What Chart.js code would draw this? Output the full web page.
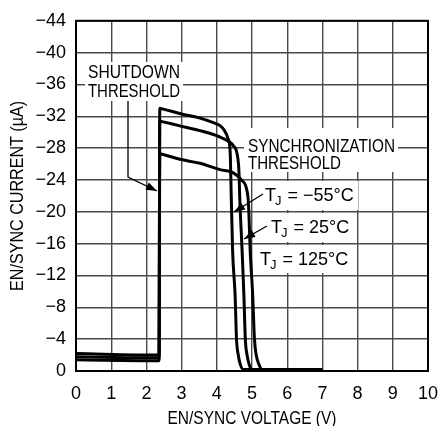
<!DOCTYPE html>
<html>
<head>
<meta charset="utf-8">
<script src="https://cdn.jsdelivr.net/npm/chart.js@4.4.1/dist/chart.umd.min.js"></script>
<style>
  html, body { margin: 0; padding: 0; background: #fff; }
  #wrap { width: 438px; height: 426px; position: relative; }
</style>
</head>
<body>
<div id="wrap"><canvas id="chart"></canvas></div>
<script>
// values (volts, microamps)
const voltsCold = [0, 2.36, 2.38, 2.48, 3.0, 3.5, 3.9, 4.1, 4.22, 4.32, 4.38, 4.41, 4.45, 4.52, 4.56, 4.61, 4.67, 4.75, 7.0];
const currCold  = [-2.2, -2.0, -33.0, -32.9, -32.3, -31.8, -31.2, -30.8, -30.2, -29.2, -27.5, -22, -15, -9.5, -4, -2, -0.8, -0.2, -0.2];

const voltsRoom = [0, 2.36, 2.38, 2.48, 2.95, 3.52, 4.09, 4.35, 4.47, 4.58, 4.63, 4.65, 4.72, 4.77, 4.81, 4.86, 4.92, 4.99, 7.0];
const currRoom  = [-1.8, -1.65, -31.4, -31.3, -30.8, -30.2, -29.4, -28.8, -28.3, -27.2, -25, -22, -15, -9.5, -4, -2, -0.8, -0.2, -0.2];

const voltsHot = [0, 2.36, 2.38, 2.48, 2.95, 3.52, 4.09, 4.47, 4.7, 4.85, 4.9, 4.95, 5.02, 5.07, 5.12, 5.2, 5.28, 7.0];
const currHot  = [-1.4, -1.3, -27.3, -27.2, -26.6, -26.1, -25.3, -24.9, -24.0, -22.8, -21, -15, -9.5, -4, -2, -0.8, -0.2, -0.2];

const xMin = 0, xMax = 10, xStep = 1;
const yMin = -44, yMax = 0, yStep = 4;

const FONT = '"Liberation Sans", Arial, sans-serif';

function toPoints(xs, ys) {
  return xs.map((x, i) => ({ x: x, y: ys[i] }));
}

function curve(xs, ys) {
  return {
    data: toPoints(xs, ys),
    borderColor: '#000',
    borderWidth: 3,
    pointRadius: 0,
    cubicInterpolationMode: 'monotone',
    fill: false,
    borderJoinStyle: 'round'
  };
}

function arrow(ctx, pts) {
  ctx.beginPath();
  ctx.moveTo(pts[0][0], pts[0][1]);
  for (let i = 1; i < pts.length; i++) ctx.lineTo(pts[i][0], pts[i][1]);
  ctx.stroke();
  const a = pts[pts.length - 2], b = pts[pts.length - 1];
  const ang = Math.atan2(b[1] - a[1], b[0] - a[0]);
  const len = 11, w = 4;
  ctx.beginPath();
  ctx.moveTo(b[0], b[1]);
  ctx.lineTo(b[0] - len * Math.cos(ang) + w * Math.sin(ang), b[1] - len * Math.sin(ang) - w * Math.cos(ang));
  ctx.lineTo(b[0] - len * Math.cos(ang) - w * Math.sin(ang), b[1] - len * Math.sin(ang) + w * Math.cos(ang));
  ctx.closePath();
  ctx.fill();
}

// narrow caps text: squeeze to the width measured on the reference
function fitText(ctx, text, x, y, width, align) {
  ctx.font = '18px ' + FONT;
  const w = ctx.measureText(text).width;
  const s = width / w;
  let left = x;
  if (align === 'center') left = x - width / 2;
  ctx.save();
  ctx.translate(left, y);
  ctx.scale(s, 1);
  ctx.textAlign = 'left';
  ctx.fillText(text, 0, 0);
  ctx.restore();
}

function tjLabel(ctx, x, y, rest) {
  ctx.font = '18px ' + FONT;
  ctx.textAlign = 'left';
  ctx.fillText('T', x, y);
  const tw = ctx.measureText('T').width;
  ctx.font = '13px ' + FONT;
  ctx.fillText('J', x + tw - 1, y + 4);
  const jw = ctx.measureText('J').width;
  ctx.font = '18px ' + FONT;
  ctx.fillText(' ' + rest, x + tw + jw, y);
}

const notes = {
  id: 'notes',
  beforeDatasetsDraw(chart) {
    const ctx = chart.ctx;
    ctx.save();
    ctx.fillStyle = '#fff';
    ctx.fillRect(85, 62, 98, 39);
    ctx.fillRect(244, 128, 154, 44);
    ctx.fillRect(258, 181, 100, 29);
    ctx.fillRect(266, 213, 82, 29);
    ctx.fillRect(255, 245, 90, 28);
    ctx.restore();
  },
  afterDatasetsDraw(chart) {
    const ctx = chart.ctx;
    const a = chart.chartArea;
    ctx.save();
    ctx.strokeStyle = '#000';
    ctx.lineWidth = 2;
    ctx.strokeRect(a.left, a.top, a.right - a.left, a.bottom - a.top);

    ctx.fillStyle = '#000';
    ctx.textBaseline = 'alphabetic';
    fitText(ctx, 'SHUTDOWN', 134, 78, 92, 'center');
    fitText(ctx, 'THRESHOLD', 134, 97, 92, 'center');
    fitText(ctx, 'SYNCHRONIZATION', 248, 152, 147, 'left');
    fitText(ctx, 'THRESHOLD', 248, 169, 93, 'left');

    tjLabel(ctx, 265, 201, '= \u221255\u00b0C');
    tjLabel(ctx, 271, 233, '= 25\u00b0C');
    tjLabel(ctx, 260, 265, '= 125\u00b0C');

    ctx.lineWidth = 1.3;
    arrow(ctx, [[128, 101], [128, 177], [157, 191]]);
    arrow(ctx, [[263, 194], [234, 212]]);
    arrow(ctx, [[267, 226], [244, 239]]);

    // axis titles
    fitText(ctx, 'EN/SYNC VOLTAGE (V)', (a.left + a.right) / 2, 424, 169, 'center');
    ctx.save();
    ctx.translate(23, (a.top + a.bottom) / 2);
    ctx.rotate(-Math.PI / 2);
    fitText(ctx, 'EN/SYNC CURRENT (\u00b5A)', 0, 0, 190, 'center');
    ctx.restore();
    ctx.restore();
  }
};

new Chart(document.getElementById('chart'), {
  type: 'line',
  data: {
    datasets: [
      curve(voltsCold, currCold),
      curve(voltsRoom, currRoom),
      curve(voltsHot, currHot)
    ]
  },
  options: {
    responsive: true,
    maintainAspectRatio: false,
    animation: false,
    layout: { padding: { top: 19, right: 0, left: 0, bottom: 0 } },
    plugins: { legend: { display: false }, tooltip: { enabled: false } },
    scales: {
      x: {
        type: 'linear',
        min: xMin, max: xMax,
        ticks: { stepSize: xStep, color: '#000', font: { size: 18, family: FONT }, padding: 12, maxRotation: 0 },
        grid: { color: '#4a4a4a', lineWidth: 1.4, drawTicks: false },
        border: { display: false },
        afterFit(scale) { scale.height = 55; scale.paddingRight = 10; }
      },
      y: {
        type: 'linear',
        min: yMin, max: yMax,
        reverse: true,
        ticks: {
          stepSize: yStep, color: '#000', font: { size: 18, family: FONT }, padding: 10,
          callback: v => v === 0 ? '0' : '\u2212' + Math.abs(v)
        },
        grid: { color: '#4a4a4a', lineWidth: 1.4, drawTicks: false },
        border: { display: false },
        afterFit(scale) { scale.width = 76; }
      }
    }
  },
  plugins: [notes]
});
</script>
</body>
</html>
